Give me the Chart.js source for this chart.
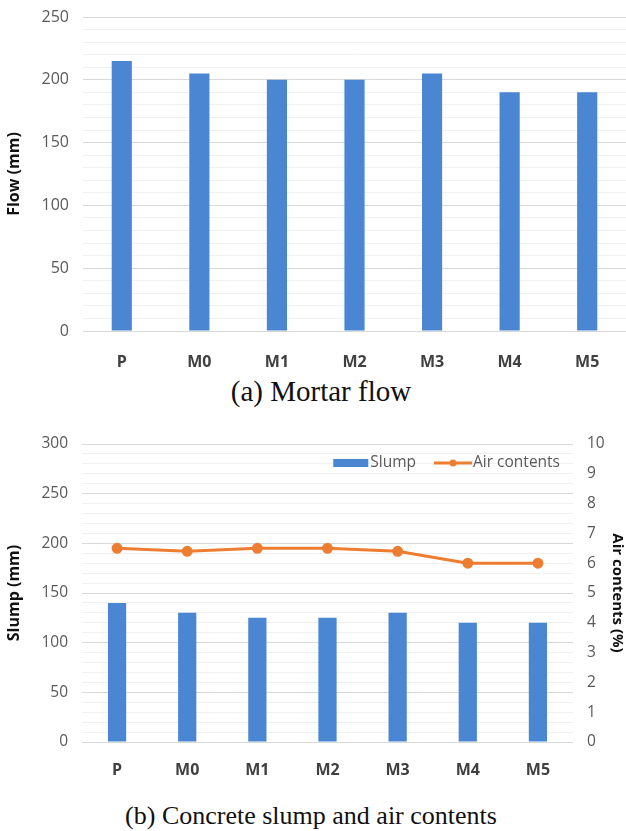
<!DOCTYPE html>
<html><head><meta charset="utf-8">
<script src="https://cdn.jsdelivr.net/npm/chart.js@4"></script>
<style>
html,body{margin:0;padding:0;background:#fff;width:626px;height:831px;overflow:hidden;}
.box{position:absolute;left:0;width:626px;}
.cap{position:absolute;left:0;width:626px;text-align:center;font-family:"Liberation Serif","Times New Roman",serif;color:#111;white-space:nowrap;}
</style></head><body>
<div class="box" style="top:0;height:372px"><canvas id="c1"></canvas></div>
<div class="cap" style="top:375px;font-size:29px;line-height:32px;left:8px;">(a) Mortar flow</div>
<div class="box" style="top:420px;height:360px"><canvas id="c2"></canvas></div>
<div class="cap" style="top:801px;font-size:26px;line-height:30px;left:-2px;">(b) Concrete slump and air contents</div>
<script>
const categories = ['P','M0','M1','M2','M3','M4','M5'];
const flowValues = [215,205,200,200,205,190,190];
const slumpValues = [140,130,125,125,130,120,120];
const airValues = [6.5,6.4,6.5,6.5,6.4,6.0,6.0];
const flowTicks = {min:0,max:250,step:10,labelStep:50};
const slumpTicks = {min:0,max:300,step:10,labelStep:50};
const airTicks = {min:0,max:10,step:1};

const BLUE = '#4a86d2';
const ORANGE = '#ed7d31';
const TICK = '#595959';
const FONT = '"Open Sans", "Noto Sans", sans-serif';

function gridColor(labelStep){
  return (c) => (c.tick && c.tick.value % labelStep === 0) ? '#d9d9d9' : '#f0f0f0';
}
function tickCb(labelStep){
  return (v) => (v % labelStep === 0 ? v : '');
}
function fixY(w){
  return (s) => { s.width = w; s.paddingTop = 0; s.paddingBottom = 0; };
}

new Chart(document.getElementById('c1'), {
  type:'bar',
  data:{labels:categories, datasets:[{label:'Flow', data:flowValues, backgroundColor:BLUE, barPercentage:0.26, categoryPercentage:1}]},
  options:{
    responsive:true, maintainAspectRatio:false, animation:false,
    layout:{padding:{top:17,left:0,right:0,bottom:0}},
    plugins:{legend:{display:false}, tooltip:{enabled:false}},
    scales:{
      x:{grid:{display:false}, border:{display:false},
         ticks:{color:'#404040', font:{family:FONT,size:16,weight:'bold'}, padding:14},
         afterFit:(s)=>{s.height=41; s.paddingLeft=0; s.paddingRight=0;}},
      y:{min:flowTicks.min, max:flowTicks.max,
         grid:{color:gridColor(flowTicks.labelStep), drawTicks:false, lineWidth:1},
         border:{display:false},
         ticks:{stepSize:flowTicks.step, autoSkip:false, callback:tickCb(flowTicks.labelStep), color:TICK, font:{family:FONT,size:16}, padding:14},
         title:{display:true, text:'Flow (mm)', color:'#111', font:{family:FONT,size:16,weight:'bold'}, padding:{top:5,bottom:0}},
         afterFit:fixY(83)}
    }
  }
});

const legendPlugin = {
  id:'inLegend',
  afterDraw(chart){
    const ctx = chart.ctx;
    const ca = chart.chartArea;
    ctx.save();
    ctx.font = '15.5px ' + FONT;
    ctx.textBaseline = 'middle';
    const y = ca.top + 19;
    const ds = chart.data.datasets;
    const t2 = ds[1].label, t1 = ds[0].label;
    const w2 = ctx.measureText(t2).width;
    const w1 = ctx.measureText(t1).width;
    let x = ca.right - 13 - w2;
    ctx.fillStyle = TICK; ctx.fillText(t2, x, y);
    const lx1 = x - 39, lx2 = x - 1;
    ctx.strokeStyle = ORANGE; ctx.lineWidth = 3;
    ctx.beginPath(); ctx.moveTo(lx1, y); ctx.lineTo(lx2, y); ctx.stroke();
    ctx.fillStyle = ORANGE; ctx.beginPath(); ctx.arc((lx1+lx2)/2, y, 3.5, 0, Math.PI*2); ctx.fill();
    x = lx1 - 18 - w1;
    ctx.fillStyle = TICK; ctx.fillText(t1, x, y);
    ctx.fillStyle = BLUE; ctx.fillRect(x - 37, y - 4, 35, 8);
    ctx.restore();
  }
};

new Chart(document.getElementById('c2'), {
  type:'bar',
  data:{labels:categories, datasets:[
    {type:'bar', label:'Slump', data:slumpValues, backgroundColor:BLUE, barPercentage:0.26, categoryPercentage:1, yAxisID:'y', order:2},
    {type:'line', label:'Air contents', data:airValues, borderColor:ORANGE, backgroundColor:ORANGE, borderWidth:3, pointRadius:4, pointBackgroundColor:ORANGE, pointBorderColor:ORANGE, tension:0, yAxisID:'y2', order:1}
  ]},
  options:{
    responsive:true, maintainAspectRatio:false, animation:false,
    layout:{padding:{top:24,left:0,right:0,bottom:0}},
    plugins:{legend:{display:false}, tooltip:{enabled:false}},
    scales:{
      x:{grid:{display:false}, border:{display:false},
         ticks:{color:'#404040', font:{family:FONT,size:16,weight:'bold'}, padding:11},
         afterFit:(s)=>{s.height=38; s.paddingLeft=0; s.paddingRight=0;}},
      y:{position:'left', min:slumpTicks.min, max:slumpTicks.max,
         grid:{color:gridColor(slumpTicks.labelStep), drawTicks:false},
         border:{display:false},
         ticks:{stepSize:slumpTicks.step, autoSkip:false, callback:tickCb(slumpTicks.labelStep), color:TICK, font:{family:FONT,size:15.5}, padding:14},
         title:{display:true, text:'Slump (mm)', color:'#111', font:{family:FONT,size:16,weight:'bold'}, padding:{top:5,bottom:0}},
         afterFit:fixY(82)},
      y2:{position:'right', min:airTicks.min, max:airTicks.max,
         grid:{display:false, drawTicks:false}, border:{display:false},
         ticks:{stepSize:airTicks.step, color:TICK, font:{family:FONT,size:15.5}, padding:14},
         title:{display:true, text:'Air contents (%)', color:'#111', font:{family:FONT,size:15,weight:'bold'}, padding:{top:0,bottom:1}},
         afterFit:fixY(53)}
    }
  },
  plugins:[legendPlugin]
});
</script>
</body></html>
